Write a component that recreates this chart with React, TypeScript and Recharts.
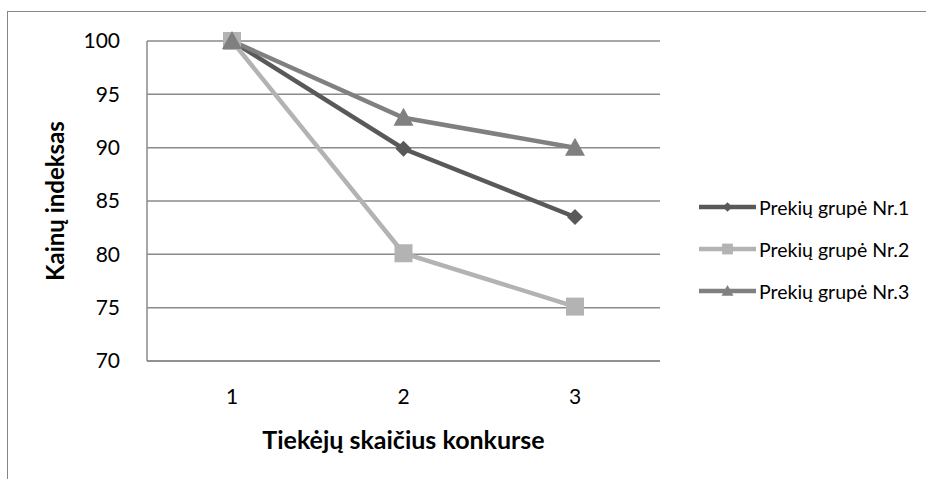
import { LineChart, Line, XAxis, YAxis, CartesianGrid } from 'recharts';

const categories = ['1', '2', '3'];
const group1 = [100, 89.9, 83.5];
const group2 = [100, 80.1, 75.1];
const group3 = [100, 92.8, 90.0];
const yTicks = [70, 75, 80, 85, 90, 95, 100];
const seriesNames = ['Prekių grupė Nr.1', 'Prekių grupė Nr.2', 'Prekių grupė Nr.3'];
const seriesColors = ['#595959', '#b3b3b3', '#808080'];

const FONT = 'Lato, "Open Sans", sans-serif';

const data = categories.map((c, i) => ({
  name: c,
  g1: group1[i],
  g2: group2[i],
  g3: group3[i],
}));

function markerPath(kind: number, cx: number, cy: number) {
  if (kind === 0) return `M${cx},${cy - 8} L${cx + 8},${cy} L${cx},${cy + 8} L${cx - 8},${cy} Z`;
  if (kind === 1) return `M${cx - 9},${cy - 9} H${cx + 9} V${cy + 9} H${cx - 9} Z`;
  return `M${cx},${cy - 10} L${cx + 10},${cy + 8} L${cx - 10},${cy + 8} Z`;
}

const makeDot = (kind: number) => (props: any) => {
  const { cx, cy, index } = props;
  if (cx == null || cy == null) return <g key={index} />;
  return <path key={index} d={markerPath(kind, cx, cy)} fill={seriesColors[kind]} />;
};

function YTitle(props: any) {
  const vb = props.viewBox || {};
  const cx = 54;
  const cy = vb.y + vb.height / 2;
  return (
    <text x={cx} y={cy} transform={`rotate(-90, ${cx}, ${cy})`} textAnchor="middle"
      dominantBaseline="central" fontFamily={FONT} fontWeight="bold" fontSize={24} fill="#000">
      Kainų indeksas
    </text>
  );
}

function XTitle(props: any) {
  const vb = props.viewBox || {};
  return (
    <text x={vb.x + vb.width / 2} y={vb.y + 78} textAnchor="middle" dominantBaseline="central"
      fontFamily={FONT} fontWeight="bold" fontSize={25} fill="#000">
      Tiekėjų skaičius konkurse
    </text>
  );
}

export default function App() {
  return (
    <div style={{ position: 'fixed', left: 0, top: 0, width: 926, height: 479, overflow: 'hidden', background: '#fff' }}>
      <div style={{ position: 'absolute', left: 7, top: 11, width: 2000, height: 2000,
        borderTop: '1.5px solid #868686', borderLeft: '1.5px solid #868686' }} />
      <div style={{ position: 'absolute', left: 0, top: 0 }}>
        <LineChart width={926} height={479} data={data}
          margin={{ top: 41, right: 266, bottom: 18, left: 0 }}>
          <CartesianGrid vertical={false} stroke="#8a8a8a" strokeWidth={1.5} />
          <XAxis dataKey="name" height={100} padding={{ left: 85, right: 85 }}
            axisLine={{ stroke: '#8a8a8a', strokeWidth: 1.5 }} tickLine={false}
            tickSize={0} tickMargin={28}
            tick={{ fill: '#000', fontSize: 21, fontFamily: FONT }}
            label={<XTitle />} />
          <YAxis width={147} domain={[70, 100]} ticks={yTicks} interval={0}
            axisLine={{ stroke: '#8a8a8a', strokeWidth: 1.5 }} tickLine={false}
            tickSize={0} tickMargin={27}
            tick={{ fill: '#000', fontSize: 21, fontFamily: FONT }}
            label={<YTitle />} />
          <Line dataKey="g1" stroke={seriesColors[0]} strokeWidth={4.5} dot={makeDot(0)}
            activeDot={false} isAnimationActive={false} />
          <Line dataKey="g2" stroke={seriesColors[1]} strokeWidth={4.5} dot={makeDot(1)}
            activeDot={false} isAnimationActive={false} />
          <Line dataKey="g3" stroke={seriesColors[2]} strokeWidth={4.5} dot={makeDot(2)}
            activeDot={false} isAnimationActive={false} />
        </LineChart>
      </div>
      <div style={{ position: 'absolute', left: 699, top: 186, fontFamily: FONT, fontSize: 19.5, color: '#000' }}>
        {seriesNames.map((n, i) => (
          <div key={n} style={{ display: 'flex', alignItems: 'center', height: 42 }}>
            <svg width={57} height={20} style={{ display: 'block' }}>
              <line x1={0} y1={10} x2={57} y2={10} stroke={seriesColors[i]} strokeWidth={4.5} />
              <g transform="translate(28.5,10) scale(0.6) translate(-28.5,-10)">
                <path d={markerPath(i, 28.5, 10)} fill={seriesColors[i]} />
              </g>
            </svg>
            <span style={{ marginLeft: 3, whiteSpace: 'nowrap' }}>{n}</span>
          </div>
        ))}
      </div>
    </div>
  );
}
